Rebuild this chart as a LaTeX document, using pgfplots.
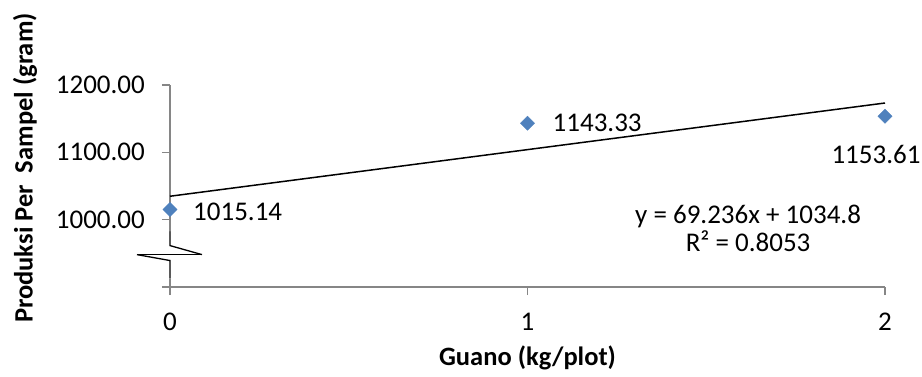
\documentclass[border=0pt]{standalone}
\usepackage{pgfplots}
\pgfplotsset{compat=1.18}
\usepackage{fontspec}
\setmainfont{Carlito}
\definecolor{xlblue}{HTML}{4F81BD}
\definecolor{axgray}{HTML}{868686}
\begin{document}
\fontsize{27}{32}\selectfont
\begin{tikzpicture}
\useasboundingbox (-170pt,-89pt) rectangle (752pt,287pt);
\begin{axis}[
  scale only axis, width=715pt, height=202pt,
  xmin=0, xmax=2, ymin=900, ymax=1200,
  enlargelimits=false, clip=false,
  axis x line=bottom, axis y line=left,
  axis line style={-, axgray, line width=1.2pt},
  tick style={axgray, line width=1.2pt},
  tick align=outside, major tick length=8pt,
  xtick={0,1,2}, ytick={900,1000,1100,1200},
  yticklabels={,1000.00,1100.00,1200.00},
  /pgf/number format/assume math mode=true,
  /pgf/number format/1000 sep={},
  ticklabel style={font=\fontsize{27}{32}\selectfont, text=black},
  xticklabel style={anchor=center, inner sep=0pt, yshift=-27pt},
  yticklabel style={anchor=east, inner sep=0pt, xshift=-17pt},
  label style={font=\bfseries\fontsize{26.5}{31}\selectfont},
  xlabel={Guano (kg/plot)},
  ylabel={Produksi Per\ \ Sampel (gram)},
  xlabel style={at={(axis description cs:0.5,-0.352)}, anchor=center},
  ylabel style={at={(axis description cs:-0.2028,0.589)}, anchor=center},
]
\addplot[black, line width=1.5pt, forget plot] coordinates {(0,1034.8) (2,1173.272)};
\addplot[only marks, mark=square*, mark size=5pt,
  mark options={rotate=45, fill=xlblue, draw=xlblue},
  point meta=y,
  nodes near coords={\pgfmathprintnumber[fixed,fixed zerofill,precision=2,1000 sep={}]{\pgfplotspointmeta}},
  visualization depends on={value \thisrow{anc} \as \anc},
  visualization depends on={\thisrow{dx} \as \dx},
  visualization depends on={\thisrow{dy} \as \dy},
  every node near coord/.append style={anchor=\anc, inner sep=0pt, xshift=\dx pt, yshift=\dy pt, font=\fontsize{27}{32}\selectfont, text=black}]
  table {
x y anc dx dy
0 1015.14 west 23 -2
1 1143.33 west 25 0
2 1153.61 north -9 -29
};
\node[align=center, font=\fontsize{27}{28.5}\selectfont, inner sep=0pt] at (axis cs:1.617,986.7) {y = 69.236x + 1034.8\\R² = 0.8053};
\fill[white] (axis cs:-0.01,982.2) rectangle (axis cs:0.01,912.6);
\draw[black, line width=1.3pt] (axis cs:0,982.2) -- (axis cs:0,961.5) -- (axis cs:0.0895,948.1);
\draw[black, line width=1.3pt] (axis cs:-0.0923,948.1) -- (axis cs:0.0895,948.1);
\draw[black, line width=1.3pt] (axis cs:-0.0923,948.1) -- (axis cs:0,939.3) -- (axis cs:0,912.6);
\end{axis}
\end{tikzpicture}
\end{document}
